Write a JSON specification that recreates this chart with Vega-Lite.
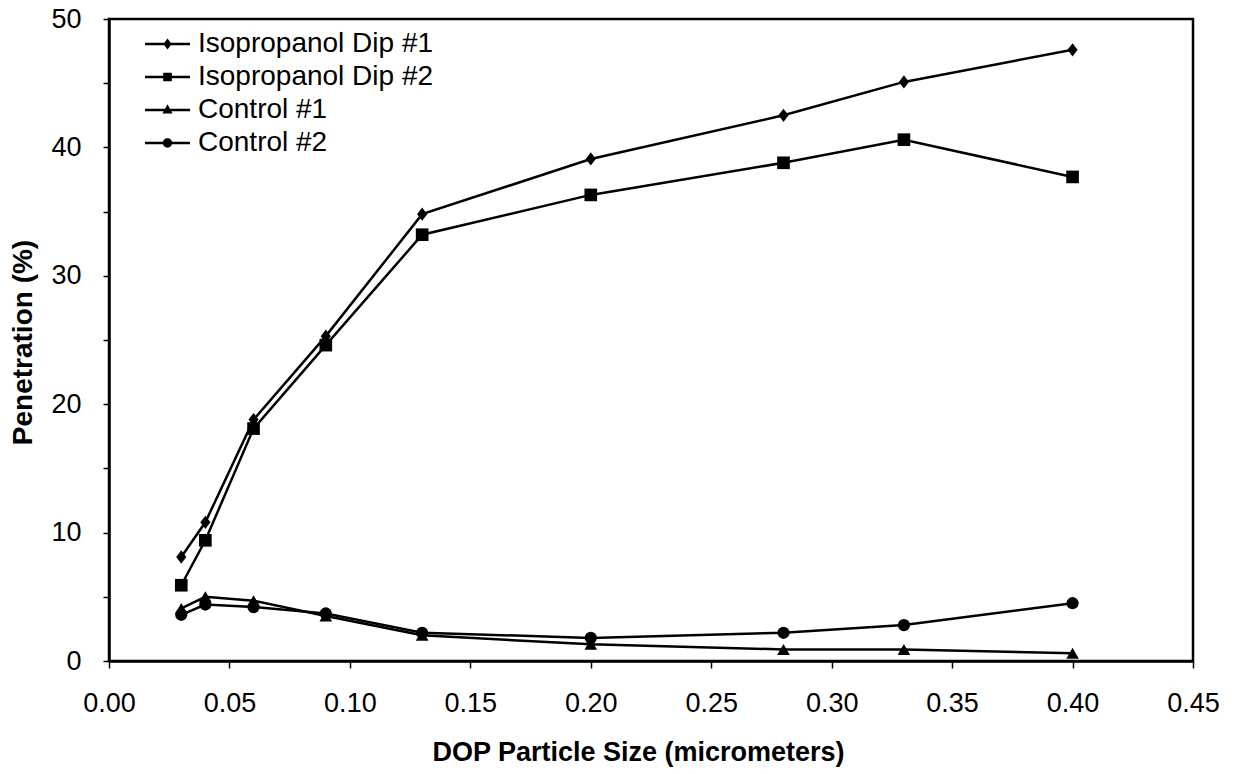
{
  "$schema": "https://vega.github.io/schema/vega-lite/v6.json",
  "width": 1084,
  "height": 642,
  "autosize": "none",
  "padding": {"left": 109, "top": 19, "right": 40, "bottom": 113},
  "background": "white",
  "config": {
    "font": "Liberation Sans",
    "view": {"stroke": "black", "strokeWidth": 2.5},
    "axis": {
      "grid": false,
      "domainColor": "black",
      "domainWidth": 2.5,
      "tickColor": "black",
      "tickWidth": 1.5,
      "labelColor": "black",
      "titleColor": "black",
      "labelFont": "Liberation Sans",
      "titleFont": "Liberation Sans",
      "labelFlush": false
    }
  },
  "data": {
    "values": [
      {"size": 0.03, "penetration": 8.1, "series": "Isopropanol Dip #1"},
      {"size": 0.04, "penetration": 10.8, "series": "Isopropanol Dip #1"},
      {"size": 0.06, "penetration": 18.8, "series": "Isopropanol Dip #1"},
      {"size": 0.09, "penetration": 25.3, "series": "Isopropanol Dip #1"},
      {"size": 0.13, "penetration": 34.8, "series": "Isopropanol Dip #1"},
      {"size": 0.20, "penetration": 39.1, "series": "Isopropanol Dip #1"},
      {"size": 0.28, "penetration": 42.5, "series": "Isopropanol Dip #1"},
      {"size": 0.33, "penetration": 45.1, "series": "Isopropanol Dip #1"},
      {"size": 0.40, "penetration": 47.6, "series": "Isopropanol Dip #1"},
      {"size": 0.03, "penetration": 5.9, "series": "Isopropanol Dip #2"},
      {"size": 0.04, "penetration": 9.4, "series": "Isopropanol Dip #2"},
      {"size": 0.06, "penetration": 18.1, "series": "Isopropanol Dip #2"},
      {"size": 0.09, "penetration": 24.6, "series": "Isopropanol Dip #2"},
      {"size": 0.13, "penetration": 33.2, "series": "Isopropanol Dip #2"},
      {"size": 0.20, "penetration": 36.3, "series": "Isopropanol Dip #2"},
      {"size": 0.28, "penetration": 38.8, "series": "Isopropanol Dip #2"},
      {"size": 0.33, "penetration": 40.6, "series": "Isopropanol Dip #2"},
      {"size": 0.40, "penetration": 37.7, "series": "Isopropanol Dip #2"},
      {"size": 0.03, "penetration": 4.1, "series": "Control #1"},
      {"size": 0.04, "penetration": 5.0, "series": "Control #1"},
      {"size": 0.06, "penetration": 4.7, "series": "Control #1"},
      {"size": 0.09, "penetration": 3.5, "series": "Control #1"},
      {"size": 0.13, "penetration": 2.0, "series": "Control #1"},
      {"size": 0.20, "penetration": 1.3, "series": "Control #1"},
      {"size": 0.28, "penetration": 0.9, "series": "Control #1"},
      {"size": 0.33, "penetration": 0.9, "series": "Control #1"},
      {"size": 0.40, "penetration": 0.6, "series": "Control #1"},
      {"size": 0.03, "penetration": 3.6, "series": "Control #2"},
      {"size": 0.04, "penetration": 4.4, "series": "Control #2"},
      {"size": 0.06, "penetration": 4.2, "series": "Control #2"},
      {"size": 0.09, "penetration": 3.7, "series": "Control #2"},
      {"size": 0.13, "penetration": 2.2, "series": "Control #2"},
      {"size": 0.20, "penetration": 1.8, "series": "Control #2"},
      {"size": 0.28, "penetration": 2.2, "series": "Control #2"},
      {"size": 0.33, "penetration": 2.8, "series": "Control #2"},
      {"size": 0.40, "penetration": 4.5, "series": "Control #2"}
    ]
  },
  "encoding": {
    "x": {"field": "size", "type": "quantitative"},
    "y": {"field": "penetration", "type": "quantitative"}
  },
  "layer": [
    {
      "mark": {"type": "line", "color": "black", "strokeWidth": 2.5},
      "encoding": {
        "x": {
          "field": "size", "type": "quantitative",
          "scale": {"domain": [0, 0.45], "nice": false, "zero": false},
          "axis": {
            "values": [0, 0.05, 0.1, 0.15, 0.2, 0.25, 0.3, 0.35, 0.4, 0.45],
            "format": ".2f",
            "tickSize": 7,
            "labelFontSize": 27,
            "labelPadding": 22,
            "title": "DOP Particle Size (micrometers)",
            "titleFontSize": 27,
            "titleFontWeight": "bold",
            "titleX": 529,
            "titleY": 91,
            "titleBaseline": "middle"
          }
        },
        "y": {
          "field": "penetration", "type": "quantitative",
          "scale": {"domain": [0, 50], "nice": false},
          "axis": {
            "values": [0, 5, 10, 15, 20, 25, 30, 35, 40, 45, 50],
            "labelExpr": "datum.value % 10 === 0 ? datum.label : ''",
            "tickSize": 6,
            "labelFontSize": 27,
            "labelPadding": 22,
            "title": "Penetration (%)",
            "titleFontSize": 28,
            "titleFontWeight": "bold",
            "titleX": -86,
            "titleY": 323,
            "titleBaseline": "middle"
          }
        },
        "detail": {"field": "series"}
      }
    },
    {
      "transform": [{"filter": "datum.series === 'Isopropanol Dip #1'"}],
      "mark": {"type": "point", "filled": true, "color": "black", "opacity": 1, "size": 160, "shape": "M0,-1.05L0.8,0L0,1.05L-0.8,0Z"}
    },
    {
      "transform": [{"filter": "datum.series === 'Isopropanol Dip #2'"}],
      "mark": {"type": "point", "filled": true, "color": "black", "opacity": 1, "size": 160, "shape": "square"}
    },
    {
      "transform": [{"filter": "datum.series === 'Control #1'"}],
      "mark": {"type": "point", "filled": true, "color": "black", "opacity": 1, "size": 160, "shape": "triangle-up"}
    },
    {
      "transform": [{"filter": "datum.series === 'Control #2'"}],
      "mark": {"type": "point", "filled": true, "color": "black", "opacity": 1, "size": 150, "shape": "circle"}
    },
    {
      "transform": [{"filter": "false"}],
      "mark": {"type": "point", "filled": true, "color": "black", "size": 144},
      "encoding": {
        "shape": {
          "field": "series",
          "scale": {
            "domain": ["Isopropanol Dip #1", "Isopropanol Dip #2", "Control #1", "Control #2"],
            "range": [
              "M-3.75,-0.2H3.75V0.2H-3.75ZM0,-0.9L0.7,0L0,0.9L-0.7,0Z",
              "M-3.75,-0.2H3.75V0.2H-3.75ZM-0.72,-0.72H0.72V0.72H-0.72Z",
              "M-3.75,-0.2H3.75V0.2H-3.75ZM0,-0.95L0.85,0.6H-0.85Z",
              "M-3.75,-0.2H3.75V0.2H-3.75ZM-0.78,0A0.78,0.78,0,1,1,0.78,0A0.78,0.78,0,1,1,-0.78,0Z"
            ]
          },
          "legend": {
            "title": null,
            "orient": "none",
            "legendX": 44.5,
            "legendY": 11,
            "padding": 0,
            "symbolSize": 144,
            "symbolFillColor": "black",
            "symbolOpacity": 1,
            "labelFontSize": 28,
            "labelFont": "Liberation Sans",
            "labelColor": "black",
            "labelOffset": 16.5,
            "rowPadding": 5,
            "labelLimit": 400,
            "encode": {
              "symbols": {
                "fill": {"value": "black"},
                "opacity": {"value": 1}
              }
            }
          }
        }
      }
    }
  ]
}
